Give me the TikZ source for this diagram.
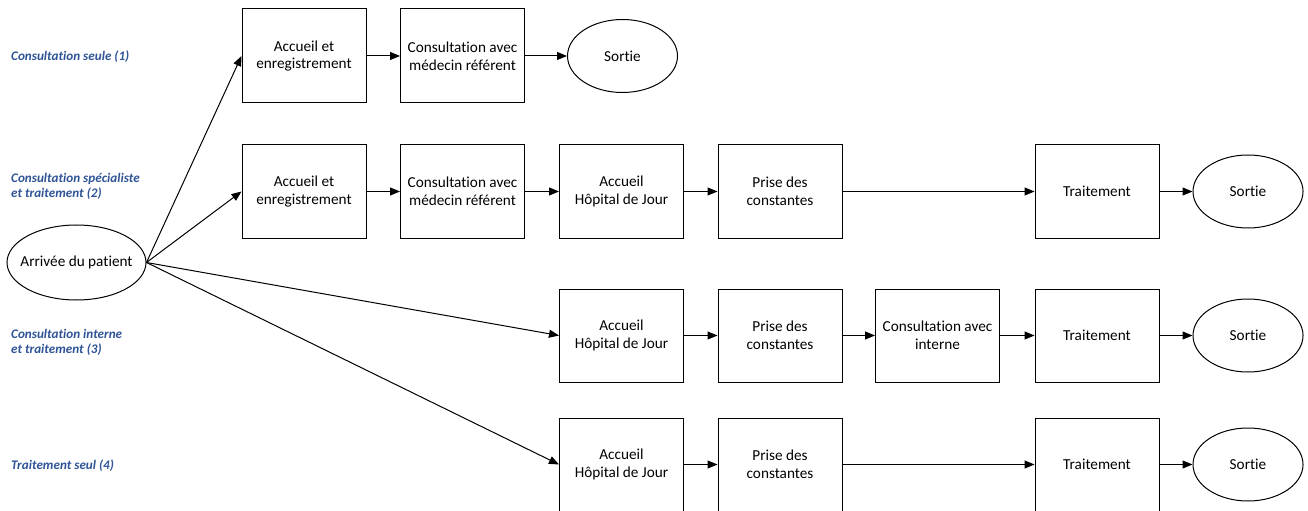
\documentclass[tikz,border=0pt]{standalone}
\usepackage{fontspec}
\setmainfont{Carlito}[Ligatures=NoCommon]
\usetikzlibrary{shapes.geometric,arrows.meta}
\definecolor{lblblue}{RGB}{47,84,150}
\begin{document}
\begin{tikzpicture}[x=1bp,y=-1bp,
  box/.style={draw,line width=1bp,minimum width=124bp,minimum height=93bp,align=center,inner sep=2bp,font=\fontsize{15.3}{18}\selectfont},
  oval/.style={draw,line width=1bp,ellipse,minimum width=110bp,minimum height=73bp,inner sep=0pt,font=\fontsize{15.3}{18}\selectfont},
  lbl/.style={anchor=west,align=left,text=lblblue,inner sep=0pt,font=\fontsize{13.2}{14.8}\selectfont\bfseries\itshape},
  flow/.style={line width=1bp,-{Triangle[length=10bp,width=8bp]}}]
\useasboundingbox (0,0) rectangle (1308,511);
% labels
\node[lbl] (l1) at (11,57) {Consultation seule (1)};
\node[lbl] (l2) at (11,186) {Consultation spécialiste\\et traitement (2)};
\node[lbl] (l3) at (11,342) {Consultation interne\\et traitement (3)};
\node[lbl] (l4) at (11,466) {Traitement seul (4)};
% start
\node[oval,minimum width=139bp,minimum height=75bp,
      label={[font=\fontsize{15.3}{18}\selectfont]center:Arrivée du patient}] (arr) at (76.5,262.5) {};
% row 1
\node[box,minimum height=94bp] (a1) at (304,56) {Accueil et\\enregistrement};
\node[box,minimum height=94bp] (b1) at (462.5,56) {Consultation avec\\médecin référent};
\node[oval] (s1) at (622.5,56) {Sortie};
% row 2
\node[box] (a2) at (304,191.5) {Accueil et\\enregistrement};
\node[box] (b2) at (462.5,191.5) {Consultation avec\\médecin référent};
\node[box] (c2) at (621.5,191.5) {Accueil\\Hôpital de Jour};
\node[box] (d2) at (780,191.5) {Prise des\\constantes};
\node[box] (t2) at (1097,191.5) {Traitement};
\node[oval] (s2) at (1248,191.5) {Sortie};
% row 3
\node[box] (c3) at (621.5,335.5) {Accueil\\Hôpital de Jour};
\node[box] (d3) at (780,335.5) {Prise des\\constantes};
\node[box] (e3) at (937.5,335.5) {Consultation avec\\interne};
\node[box] (t3) at (1097,335.5) {Traitement};
\node[oval] (s3) at (1248,335.5) {Sortie};
% row 4
\node[box] (c4) at (621.5,464.5) {Accueil\\Hôpital de Jour};
\node[box] (d4) at (780,464.5) {Prise des\\constantes};
\node[box] (t4) at (1097,464.5) {Traitement};
\node[oval] (s4) at (1248,464.5) {Sortie};
% connectors
\draw[flow] (arr.east) -- (a1.west);
\draw[flow] (arr.east) -- (a2.west);
\draw[flow] (arr.east) -- (c3.west);
\draw[flow] (arr.east) -- (c4.west);
\draw[flow] (a1) -- (b1);
\draw[flow] (b1) -- (s1);
\draw[flow] (a2) -- (b2);
\draw[flow] (b2) -- (c2);
\draw[flow] (c2) -- (d2);
\draw[flow] (d2) -- (t2);
\draw[flow] (t2) -- (s2);
\draw[flow] (c3) -- (d3);
\draw[flow] (d3) -- (e3);
\draw[flow] (e3) -- (t3);
\draw[flow] (t3) -- (s3);
\draw[flow] (c4) -- (d4);
\draw[flow] (d4) -- (t4);
\draw[flow] (t4) -- (s4);
\end{tikzpicture}
\end{document}
